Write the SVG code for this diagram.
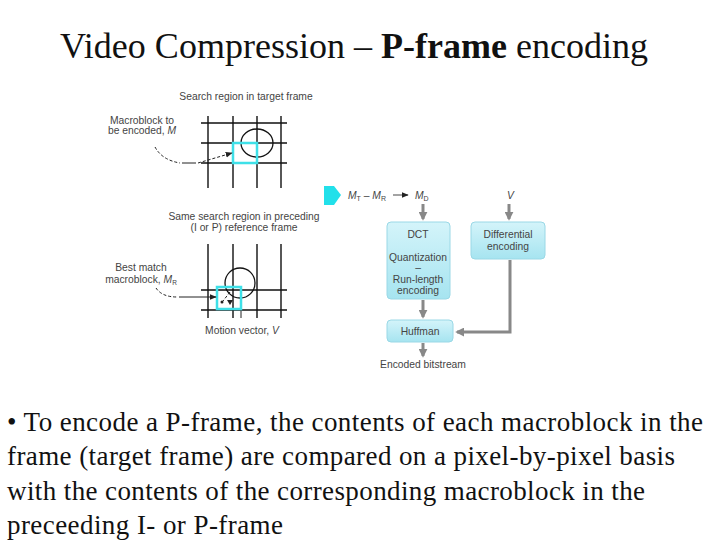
<svg xmlns="http://www.w3.org/2000/svg" width="720" height="540" viewBox="0 0 720 540">
<defs>
<linearGradient id="box" x1="0" y1="0" x2="0" y2="1">
<stop offset="0" stop-color="#d4f4fa"/>
<stop offset="1" stop-color="#a6e4f0"/>
</linearGradient>
<marker id="ga" viewBox="0 0 10 10" refX="8" refY="5" markerWidth="3" markerHeight="3" orient="auto">
<path d="M0,0 L10,5 L0,10 z" fill="#888"/>
</marker>
<marker id="ka" viewBox="0 0 10 10" refX="9" refY="5" markerWidth="7" markerHeight="7" orient="auto" markerUnits="userSpaceOnUse">
<path d="M0,1 L10,5 L0,9 z" fill="#222"/>
</marker>
</defs>
<style>
.title{font-family:"Liberation Serif","Times New Roman",serif;font-size:36px;fill:#111}
.body{font-family:"Liberation Serif","Times New Roman",serif;font-size:27px;fill:#111}
.lab{font-family:"Liberation Sans",Arial,sans-serif;font-size:10.3px;fill:#444}
.grid{stroke:#111;stroke-width:1.4;fill:none}
.cyan{stroke:#3ee0e8;stroke-width:2.5;fill:none}
.circ{stroke:#111;stroke-width:1.3;fill:none}
.box{fill:url(#box);stroke:#9ad8e6;stroke-width:1}
.flow{stroke:#888;stroke-width:3;fill:none}
.ptr{stroke:#222;stroke-width:1;fill:none}
.dash{stroke-dasharray:3,2}
</style>
<rect width="720" height="540" fill="#fff"/>

<text class="title" x="354" y="58" text-anchor="middle" textLength="588" lengthAdjust="spacing">Video Compression – <tspan font-weight="bold">P-frame</tspan> encoding</text>

<g id="target-frame">
<text class="lab" x="246" y="100" text-anchor="middle">Search region in target frame</text>
<path class="grid" d="M208,116V188M233,116V188M257,116V188M281,116V188M201,123H287M201,143H287M201,163H287"/>
<ellipse class="circ" cx="257" cy="143" rx="16" ry="14"/>
<rect class="cyan" x="233" y="143" width="24" height="20"/>
<text class="lab" x="142" y="124" text-anchor="middle">Macroblock to</text>
<text class="lab" x="142" y="134" text-anchor="middle">be encoded, <tspan font-style="italic">M</tspan></text>
</g>

<g id="reference-frame">
<text class="lab" x="244" y="220" text-anchor="middle">Same search region in preceding</text>
<text class="lab" x="244" y="231" text-anchor="middle">(I or P) reference frame</text>
<path class="grid" d="M208,244V318M233,244V318M257,244V318M281,244V318M201,290H287M201,310H287"/>
<circle class="circ" cx="240" cy="283" r="15"/>
<rect class="cyan" x="217" y="287" width="24" height="22"/>
<text class="lab" x="141" y="271" text-anchor="middle">Best match</text>
<text class="lab" x="141" y="283" text-anchor="middle">macroblock, <tspan font-style="italic">M</tspan><tspan font-size="6.5" dy="2">R</tspan></text>
<text class="lab" x="242" y="334" text-anchor="middle">Motion vector, <tspan font-style="italic">V</tspan></text>
</g>

<g id="subtract">
<path d="M324,186H334L341,195L334,205H324z" fill="#22e0ea"/>
<text class="lab" x="348" y="199" font-size="11"><tspan font-style="italic">M</tspan><tspan font-size="7" dy="2">T</tspan><tspan dy="-2"> – </tspan><tspan font-style="italic">M</tspan><tspan font-size="7" dy="2">R</tspan></text>
<text class="lab" x="415" y="199" font-size="11"><tspan font-style="italic">M</tspan><tspan font-size="7" dy="2">D</tspan></text>
<text class="lab" x="507" y="199" font-size="11" font-style="italic">V</text>
</g>

<g id="dct">
<rect class="box" x="387" y="222" width="63" height="77" rx="4"/>
<text class="lab" x="418" y="238" text-anchor="middle">DCT</text>
<text class="lab" x="418" y="261" text-anchor="middle">Quantization</text>
<text class="lab" x="418" y="271" text-anchor="middle">–</text>
<text class="lab" x="418" y="283" text-anchor="middle">Run-length</text>
<text class="lab" x="418" y="294" text-anchor="middle">encoding</text>
</g>

<g id="differential">
<rect class="box" x="471" y="222" width="74" height="37" rx="4"/>
<text class="lab" x="508" y="238" text-anchor="middle">Differential</text>
<text class="lab" x="508" y="250" text-anchor="middle">encoding</text>
</g>

<g id="huffman">
<rect class="box" x="387" y="320" width="66" height="22" rx="4"/>
<text class="lab" x="420" y="335" text-anchor="middle">Huffman</text>
</g>

<g id="output">
<text class="lab" x="423" y="368" text-anchor="middle">Encoded bitstream</text>
</g>

<g id="connectors">
<path class="ptr dash" d="M155,147Q162,160 180,163"/>
<path class="ptr" d="M182,163H196"/>
<path class="ptr dash" d="M198,163L232,153" marker-end="url(#ka)"/>
<path class="ptr dash" d="M156,288Q162,297 177,297"/>
<path class="ptr" d="M179,297H216" marker-end="url(#ka)"/>
<path class="ptr dash" d="M230,292L223,301"/>
<circle cx="222" cy="302" r="1.5" fill="#222"/>
<path d="M227,300L233,300L230,305z" fill="#222"/>
<path class="ptr" d="M241,311V318"/>
<path d="M393,195H408" stroke="#666" stroke-width="1.2" marker-end="url(#ka)"/>
<path class="flow" d="M423,204V219" marker-end="url(#ga)"/>
<path class="flow" d="M509,204V219" marker-end="url(#ga)"/>
<path class="flow" d="M423,300V317" marker-end="url(#ga)"/>
<path class="flow" d="M423,343V356" marker-end="url(#ga)"/>
<path class="flow" d="M510,260V332H457" marker-end="url(#ga)"/>
</g>

<g id="bullet-text">
<text class="body" x="7" y="431" textLength="696" lengthAdjust="spacing">• To encode a P-frame, the contents of each macroblock in the</text>
<text class="body" x="7" y="465" textLength="668" lengthAdjust="spacing">frame (target frame) are compared on a pixel-by-pixel basis</text>
<text class="body" x="7" y="500" textLength="638" lengthAdjust="spacing">with the contents of the corresponding macroblock in the</text>
<text class="body" x="7" y="534" textLength="276" lengthAdjust="spacing">preceeding I- or P-frame</text>
</g>
</svg>
